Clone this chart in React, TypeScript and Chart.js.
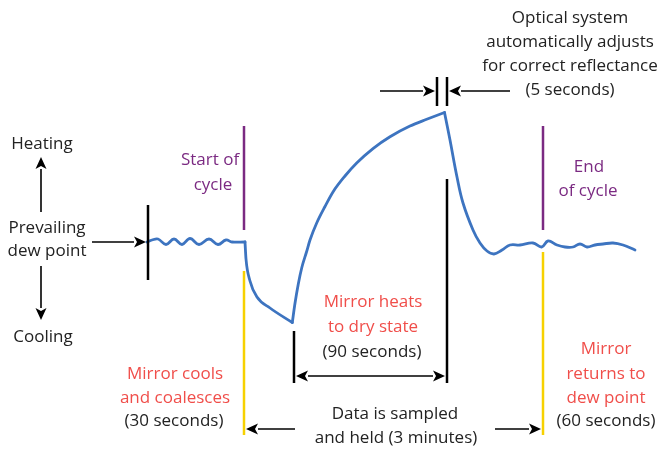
import React, { useEffect, useRef } from "react";
import { Chart, registerables } from "chart.js";

Chart.register(...registerables);

// Curve segments: x = time units, y = mirror temperature relative to dew point
const dewX = [147, 152, 158, 166, 174, 182, 190, 199, 209, 218, 226, 232, 245];
const dewY = [0, 2, 3, -2.5, 3, -2.5, 3.5, -2.5, 3, -2.5, 2, 0, 0];
const coolX = [245, 246, 250, 257, 270, 292.3];
const coolY = [0, -17, -39, -55, -66, -80.5];
const heatX = [292.3, 295, 298.3, 301.7, 306.5, 310, 316.7, 325, 333.3, 345, 356.7, 373.3, 390, 410, 426.7, 444.5];
const heatY = [-80.5, -61.3, -42, -26, -10, 2, 19, 35.5, 50.5, 66, 79, 93.7, 105.3, 116, 122.7, 129.5];
const fallX = [444.5, 450, 457, 463, 473, 480, 487, 494, 502, 510, 520, 533, 541.7, 548, 557, 565, 573, 580, 587, 595, 603, 613, 623, 635];
const fallY = [129.5, 102, 65, 39, 12, -1, -9, -12, -8, -3, -3, -1, -5, 1, -3, -5, -5, -2, -5, -3, -2, -1, -3, -8];

const BLUE = "#3d74c0";
const PURPLE = "#7b2a82";
const YELLOW = "#f7d100";
const RED = "#f04e4a";
const INK = "#222222";

type Seg = { x1: number; y1: number; x2: number; y2: number; color: string; w: number };
type Arrow = { x1: number; y1: number; x2: number; y2: number };
type Label = { x: number; y: number; text: string; color: string };

const segments: Seg[] = [
  { x1: 148, y1: 37, x2: 148, y2: -38, color: "#000", w: 2.5 },
  { x1: 244, y1: 116, x2: 244, y2: 12, color: PURPLE, w: 2.5 },
  { x1: 244, y1: -29, x2: 244, y2: -193, color: YELLOW, w: 2.5 },
  { x1: 543, y1: 116, x2: 543, y2: 12, color: PURPLE, w: 2.5 },
  { x1: 543, y1: -10, x2: 543, y2: -193, color: YELLOW, w: 2.5 },
  { x1: 294, y1: -89, x2: 294, y2: -141, color: "#000", w: 2.5 },
  { x1: 447, y1: 63, x2: 447, y2: -141, color: "#000", w: 2.5 },
  { x1: 437, y1: 165, x2: 437, y2: 136, color: "#000", w: 2.5 },
  { x1: 447, y1: 165, x2: 447, y2: 136, color: "#000", w: 2.5 },
];

const arrows: Arrow[] = [
  { x1: 92, y1: 0, x2: 146, y2: 0 },
  { x1: 41, y1: 30, x2: 41, y2: 85 },
  { x1: 41, y1: -24, x2: 41, y2: -78 },
  { x1: 370, y1: -134, x2: 296, y2: -134 },
  { x1: 370, y1: -134, x2: 445, y2: -134 },
  { x1: 380, y1: 151, x2: 435, y2: 151 },
  { x1: 510, y1: 151, x2: 449, y2: 151 },
  { x1: 295, y1: -187, x2: 246, y2: -187 },
  { x1: 495, y1: -187, x2: 541, y2: -187 },
];

const labels: Label[] = [
  { x: 42, y: 98, text: "Heating", color: INK },
  { x: 47, y: 14, text: "Prevailing", color: INK },
  { x: 47, y: -9, text: "dew point", color: INK },
  { x: 43, y: -95, text: "Cooling", color: INK },
  { x: 210, y: 82, text: "Start of", color: PURPLE },
  { x: 213, y: 57, text: "cycle", color: PURPLE },
  { x: 589, y: 75, text: "End", color: PURPLE },
  { x: 588, y: 51, text: "of cycle", color: PURPLE },
  { x: 373, y: -60, text: "Mirror heats", color: RED },
  { x: 373, y: -85, text: "to dry state", color: RED },
  { x: 372, y: -110, text: "(90 seconds)", color: INK },
  { x: 570, y: 224, text: "Optical system", color: INK },
  { x: 570, y: 200, text: "automatically adjusts", color: INK },
  { x: 570, y: 176, text: "for correct reflectance", color: INK },
  { x: 570, y: 152, text: "(5 seconds)", color: INK },
  { x: 175, y: -132, text: "Mirror cools", color: RED },
  { x: 175, y: -156, text: "and coalesces", color: RED },
  { x: 174, y: -179, text: "(30 seconds)", color: INK },
  { x: 606, y: -107, text: "Mirror", color: RED },
  { x: 606, y: -132, text: "returns to", color: RED },
  { x: 606, y: -156, text: "dew point", color: RED },
  { x: 606, y: -179, text: "(60 seconds)", color: INK },
  { x: 395, y: -172, text: "Data is sampled", color: INK },
  { x: 396, y: -196, text: "and held (3 minutes)", color: INK },
];

const toPts = (xs: number[], ys: number[]) => xs.map((x, i) => ({ x, y: ys[i] }));

const annotationPlugin = {
  id: "diagramAnnotations",
  afterDatasetsDraw(chart: any) {
    const { ctx, scales } = chart;
    const px = (v: number) => scales.x.getPixelForValue(v);
    const py = (v: number) => scales.y.getPixelForValue(v);
    ctx.save();
    ctx.lineCap = "butt";
    for (const s of segments) {
      ctx.strokeStyle = s.color;
      ctx.lineWidth = s.w;
      ctx.beginPath();
      ctx.moveTo(px(s.x1), py(s.y1));
      ctx.lineTo(px(s.x2), py(s.y2));
      ctx.stroke();
    }
    for (const a of arrows) {
      const x1 = px(a.x1), y1 = py(a.y1), x2 = px(a.x2), y2 = py(a.y2);
      const ang = Math.atan2(y2 - y1, x2 - x1);
      const L = 12, W = 5.5;
      const bx = x2 - L * Math.cos(ang), by = y2 - L * Math.sin(ang);
      ctx.strokeStyle = "#000";
      ctx.fillStyle = "#000";
      ctx.lineWidth = 1.6;
      ctx.beginPath();
      ctx.moveTo(x1, y1);
      ctx.lineTo(bx, by);
      ctx.stroke();
      ctx.beginPath();
      ctx.moveTo(x2, y2);
      ctx.lineTo(bx + W * Math.sin(ang), by - W * Math.cos(ang));
      ctx.lineTo(bx + 3 * Math.cos(ang), by + 3 * Math.sin(ang));
      ctx.lineTo(bx - W * Math.sin(ang), by + W * Math.cos(ang));
      ctx.closePath();
      ctx.fill();
    }
    ctx.font = '17px "Open Sans"';
    ctx.textAlign = "center";
    ctx.textBaseline = "middle";
    for (const l of labels) {
      ctx.fillStyle = l.color;
      ctx.fillText(l.text, px(l.x), py(l.y));
    }
    ctx.restore();
  },
};

export default function App() {
  const ref = useRef<HTMLCanvasElement | null>(null);
  useEffect(() => {
    document.body.style.margin = "0";
    if (!ref.current) return;
    const mk = (xs: number[], ys: number[], monotone: boolean) => ({
      data: toPts(xs, ys),
      borderColor: BLUE,
      borderWidth: 2.8,
      pointRadius: 0,
      tension: 0.4,
      cubicInterpolationMode: monotone ? ("monotone" as const) : ("default" as const),
      fill: false,
      borderCapStyle: "round" as const,
      borderJoinStyle: "round" as const,
    });
    const chart = new Chart(ref.current, {
      type: "line",
      data: {
        datasets: [
          mk(dewX, dewY, false),
          mk(coolX, coolY, true),
          mk(heatX, heatY, true),
          mk(fallX, fallY, false),
        ],
      },
      options: {
        animation: false,
        responsive: false,
        layout: { padding: 0 },
        plugins: { legend: { display: false }, tooltip: { enabled: false } },
        scales: {
          x: { type: "linear", min: 0, max: 660, display: false },
          y: { type: "linear", min: -210, max: 242, display: false },
        },
      },
      plugins: [annotationPlugin],
    });
    return () => chart.destroy();
  }, []);
  return (
    <div style={{ width: 660, height: 452 }}>
      <canvas ref={ref} width={660} height={452} style={{ display: "block" }} />
    </div>
  );
}
